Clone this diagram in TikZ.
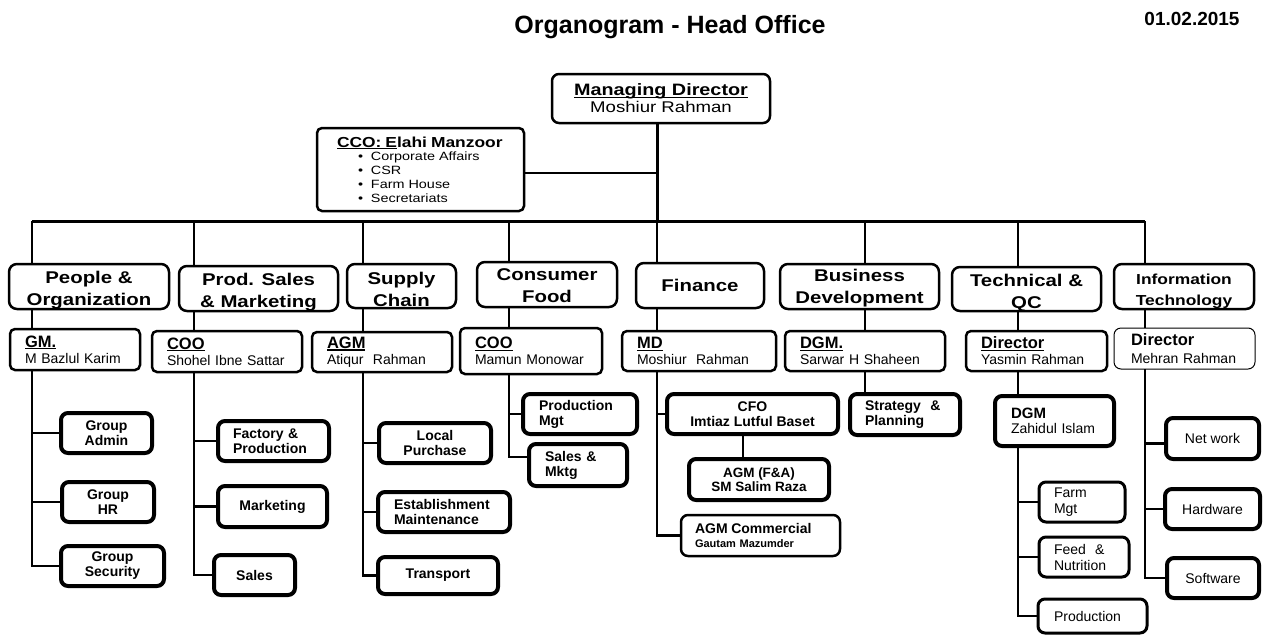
\documentclass[tikz,border=0pt]{standalone}
\usepackage{fontspec}
\setmainfont{Liberation Sans}
\newfontfamily\widefam[FakeStretch=1.2]{Liberation Sans}
\usetikzlibrary{calc}
\newcommand\ulx[1]{\setbox0\hbox{#1}\rlap{\rule[-2.2pt]{\wd0}{1.3pt}}\box0}
\newcommand\lowered[2]{\raisebox{-#1}[\height][\depth]{\begin{tabular}[b]{@{}c@{}}#2\end{tabular}}}
\newcommand\fTitle{\bfseries\fontsize{25}{28}\selectfont}
\newcommand\fDate{\bfseries\fontsize{19}{22}\selectfont}
\newcommand\fMD{\widefam\fontsize{15.5}{17}\selectfont}
\newcommand\fDept{\widefam\bfseries\fontsize{17}{22}\selectfont}
\newcommand\fIT{\widefam\bfseries\fontsize{14.5}{21}\selectfont}
\newcommand\fMgrT{\bfseries\fontsize{16.5}{18}\selectfont}
\newcommand\fMgrN{\fontsize{14}{16}\selectfont}
\newcommand\fChild{\bfseries\fontsize{14}{15}\selectfont}
\newcommand\fChildR{\fontsize{14}{16}\selectfont}
\tikzset{
  every node/.append style={inner sep=0pt, outer sep=0pt},
  boxbase/.style={draw, anchor=north west, fill=white},
  mdbox/.style={boxbase, line width=2.5pt, rounded corners=7pt, align=center, font=\fMD},
  ccobox/.style={boxbase, line width=2.5pt, rounded corners=5pt, align=left, inner xsep=20pt, text width=167pt, font=\widefam\fontsize{12}{13.7}\selectfont},
  deptbox/.style={boxbase, line width=2.5pt, rounded corners=8pt, font=\fDept},
  mgrbox/.style={boxbase, line width=2.5pt, rounded corners=5pt, align=left, inner xsep=15pt, font=\fMgrN},
  thinbox/.style={mgrbox, line width=1pt, rounded corners=7pt, inner xsep=17pt, font=\fontsize{14}{18}\selectfont},
  childbox/.style={boxbase, line width=4pt, rounded corners=7pt, align=center, font=\fChild},
  childl/.style={childbox, align=left},
  techbox/.style={childl, line width=3pt, font=\fChildR},
  itbox/.style={childbox, font=\fChildR},
  busline/.style={line width=3pt},
  link/.style={line width=2pt},
  trunk/.style={line width=2.6pt},
  branch/.style={line width=2.8pt}
}
\begin{document}
\begin{tikzpicture}[x=1pt,y=-1pt]
\path[use as bounding box, fill=white] (0,0) rectangle (1266,635);

\node[font=\fTitle, anchor=base] (title) at (670,33) {Organogram - Head Office};
\node[font=\fDate, anchor=base] (date) at (1192,25) {01.02.2015};

\node[mdbox, minimum width=218pt, minimum height=49pt] (md) at (552,74)
  {{\bfseries\fontsize{16.5}{17}\selectfont\ulx{Managing Director}}\\Moshiur Rahman};

\node[ccobox, minimum width=207pt, minimum height=83pt] (cco) at (317,128)
  {{\bfseries\fontsize{14.5}{16}\selectfont\ulx{CCO: E}lahi Manzoor}\\
   \hspace*{21pt}\makebox[13pt][l]{\textbullet}Corporate Affairs\\
   \hspace*{21pt}\makebox[13pt][l]{\textbullet}CSR\\
   \hspace*{21pt}\makebox[13pt][l]{\textbullet}Farm House\\
   \hspace*{21pt}\makebox[13pt][l]{\textbullet}Secretariats};

% departments
\node[deptbox, minimum width=160pt, minimum height=45pt] (d1) at (9,264) {\lowered{4pt}{People \&\\Organization}};
\node[deptbox, minimum width=159pt, minimum height=45pt] (d2) at (179,266) {\lowered{3.5pt}{Prod. Sales\\\& Marketing}};
\node[deptbox, minimum width=109pt, minimum height=44pt] (d3) at (347,264) {\lowered{5pt}{Supply\\Chain}};
\node[deptbox, minimum width=140pt, minimum height=45pt] (d4) at (477,262) {\lowered{3pt}{Consumer\\Food}};
\node[deptbox, minimum width=128pt, minimum height=45pt] (d5) at (636,263) {Finance};
\node[deptbox, minimum width=159pt, minimum height=45pt] (d6) at (780,264) {\lowered{2pt}{Business\\Development}};
\node[deptbox, minimum width=149pt, minimum height=44pt] (d7) at (952,267) {\lowered{4pt}{Technical \&\\QC}};
\node[deptbox, minimum width=140pt, minimum height=45pt, font=\fIT] (d8) at (1114,264) {\lowered{4pt}{Information\\Technology}};

% heads
\node[mgrbox, minimum width=130pt, minimum height=41pt, text width=100pt] (m1) at (10,329) {{\fMgrT\ulx{GM.}}\\M Bazlul Karim};
\node[mgrbox, minimum width=150pt, minimum height=41pt, text width=120pt] (m2) at (152,331) {{\fMgrT\ulx{COO}}\\Shohel Ibne Sattar};
\node[mgrbox, minimum width=140pt, minimum height=40pt, text width=110pt] (m3) at (312,332) {{\fMgrT\ulx{AGM}}\\Atiqur~~Rahman};
\node[mgrbox, minimum width=142pt, minimum height=46pt, text width=112pt] (m4) at (460,328) {{\fMgrT\ulx{COO}}\\Mamun Monowar};
\node[mgrbox, minimum width=154pt, minimum height=40pt, text width=124pt] (m5) at (622,331) {{\fMgrT\ulx{MD}}\\Moshiur~~Rahman};
\node[mgrbox, minimum width=160pt, minimum height=40pt, text width=130pt] (m6) at (785,331) {{\fMgrT\ulx{DGM.}}\\Sarwar H Shaheen};
\node[mgrbox, minimum width=141pt, minimum height=40pt, text width=111pt] (m7) at (966,331) {{\fMgrT\ulx{Director}}\\Yasmin Rahman};
\node[thinbox, minimum width=141pt, minimum height=41pt, text width=107pt] (m8) at (1114,328) {{\fMgrT Director}\\Mehran Rahman};

% People & Organization
\node[childbox, minimum width=91pt, minimum height=40pt] (c11) at (61,413) {Group\\Admin};
\node[childbox, minimum width=92pt, minimum height=40pt] (c12) at (62,482) {Group\\HR};
\node[childbox, minimum width=103pt, minimum height=40pt] (c13) at (61,546) {Group\\Security};
% Prod. Sales & Marketing
\node[childl, minimum width=111pt, minimum height=40pt, inner xsep=15pt, text width=81pt] (c21) at (218,421) {Factory \&\\Production};
\node[childbox, minimum width=109pt, minimum height=41pt] (c22) at (218,486) {Marketing};
\node[childbox, minimum width=81pt, minimum height=40pt] (c23) at (214,555) {Sales};
% Supply Chain
\node[childbox, minimum width=112pt, minimum height=40pt] (c31) at (379,423) {Local\\Purchase};
\node[childl, minimum width=132pt, minimum height=40pt, inner xsep=16pt, text width=100pt] (c32) at (378,492) {Establishment\\Maintenance};
\node[childbox, minimum width=120pt, minimum height=37pt] (c33) at (378,557) {Transport};
% Consumer Food
\node[childl, minimum width=114pt, minimum height=40pt, inner xsep=16pt, text width=82pt] (c41) at (523,394) {Production\\Mgt};
\node[childl, minimum width=98pt, minimum height=42pt, inner xsep=16pt, text width=66pt] (c42) at (529,444) {Sales \&\\Mktg};
% Finance
\node[childbox, minimum width=171pt, minimum height=40pt, font=\bfseries\fontsize{14}{15.5}\selectfont] (c51) at (667,394) {CFO\\Imtiaz Lutful Baset};
\node[childbox, minimum width=140pt, minimum height=41pt, font=\bfseries\fontsize{13.5}{14}\selectfont] (c52) at (689,459) {AGM (F\&A)\\SM Salim Raza};
\node[childl, line width=2.5pt, minimum width=159pt, minimum height=41pt, inner xsep=14pt, text width=131pt, font=\bfseries\fontsize{11}{14}\selectfont] (c53) at (681,515) {{\fontsize{14}{14}\selectfont AGM Commercial}\\Gautam Mazumder};
% Business Development
\node[childl, minimum width=110pt, minimum height=41pt, inner xsep=15pt, text width=80pt] (c61) at (850,394) {Strategy~~\&\\Planning};
% Technical & QC
\node[childl, minimum width=119pt, minimum height=50pt, inner xsep=16pt, text width=87pt, font=\fontsize{14}{15.5}\selectfont] (c71) at (995,396) {{\bfseries\fontsize{15}{15.5}\selectfont DGM}\\Zahidul Islam};
\node[techbox, minimum width=86pt, minimum height=40pt, inner xsep=15pt, text width=56pt] (c72) at (1039,482) {Farm\\Mgt};
\node[techbox, minimum width=90pt, minimum height=40pt, inner xsep=15pt, text width=60pt] (c73) at (1039,537) {Feed~~\&\\Nutrition};
\node[techbox, minimum width=109pt, minimum height=34pt, inner xsep=16pt, text width=77pt] (c74) at (1038,599) {Production};
% Information Technology
\node[itbox, minimum width=93pt, minimum height=41pt] (c81) at (1166,418) {Net work};
\node[itbox, minimum width=95pt, minimum height=40pt] (c82) at (1165,489) {Hardware};
\node[itbox, minimum width=92pt, minimum height=40pt] (c83) at (1167,558) {Software};

% bus and connectors
\coordinate (j1) at (32,221);
\coordinate (j2) at (194,221);
\coordinate (j3) at (363,221);
\coordinate (j4) at (509,221);
\coordinate (j5) at (657,221);
\coordinate (j6) at (865,221);
\coordinate (j7) at (1018,221);
\coordinate (j8) at (1145,221);
\coordinate (cf) at (743,0);
\coordinate (ccb) at ($(cco.east)+(0,3)$);
\coordinate (smb) at ($(c42.west)+(0,-8)$);
\coordinate (nwb) at ($(c81.west)+(0,5)$);

\draw[busline] (j1) -- (j8);
\draw[busline] (md.south -| j5) -- (j5);
\draw[link] (ccb) -- (ccb -| j5);

\draw[link] (j1) -- (j1 |- d1.north);
\draw[link] (j2) -- (j2 |- d2.north);
\draw[link] (j3) -- (j3 |- d3.north);
\draw[link] (j4) -- (j4 |- d4.north);
\draw[link] (j5) -- (j5 |- d5.north);
\draw[link] (j6) -- (j6 |- d6.north);
\draw[link] (j7) -- (j7 |- d7.north);
\draw[link] (j8) -- (j8 |- d8.north);

\draw[link] (j1 |- d1.south) -- (j1 |- m1.north);
\draw[link] (j2 |- d2.south) -- (j2 |- m2.north);
\draw[link] (j3 |- d3.south) -- (j3 |- m3.north);
\draw[link] (j4 |- d4.south) -- (j4 |- m4.north);
\draw[link] (j5 |- d5.south) -- (j5 |- m5.north);
\draw[link] (j6 |- d6.south) -- (j6 |- m6.north);
\draw[link] (j7 |- d7.south) -- (j7 |- m7.north);
\draw[link] (j8 |- d8.south) -- (j8 |- m8.north);

% People
\draw[trunk] (j1 |- m1.south) |- (c13.west);
\draw[branch] (j1 |- c11.west) -- (c11.west);
\draw[branch] (j1 |- c12.west) -- (c12.west);
% Prod sales
\draw[trunk] (j2 |- m2.south) |- (c23.west);
\draw[branch] (j2 |- c21.west) -- (c21.west);
\draw[branch] (j2 |- c22.west) -- (c22.west);
% Supply
\draw[trunk] (j3 |- m3.south) |- (c33.west);
\draw[branch] (j3 |- c31.west) -- (c31.west);
\draw[branch] (j3 |- c32.west) -- (c32.west);
% Consumer
\draw[trunk] (j4 |- m4.south) |- (smb);
\draw[branch] (j4 |- c41.west) -- (c41.west);
% Finance
\draw[trunk] (j5 |- m5.south) |- (c53.west);
\draw[branch] (j5 |- c51.west) -- (c51.west);
\draw[trunk] (cf |- c51.south) -- (cf |- c52.north);
% Business development
\draw[trunk] (j6 |- m6.south) -- (j6 |- c61.north);
% Technical
\draw[trunk] (j7 |- m7.south) -- (j7 |- c71.north);
\draw[trunk] (j7 |- c71.south) |- (c74.west);
\draw[branch] (j7 |- c72.west) -- (c72.west);
\draw[branch] (j7 |- c73.west) -- (c73.west);
% IT
\draw[trunk] (j8 |- m8.south) |- (c83.west);
\draw[branch] (j8 |- nwb) -- (nwb);
\draw[branch] (j8 |- c82.west) -- (c82.west);
\end{tikzpicture}
\end{document}
